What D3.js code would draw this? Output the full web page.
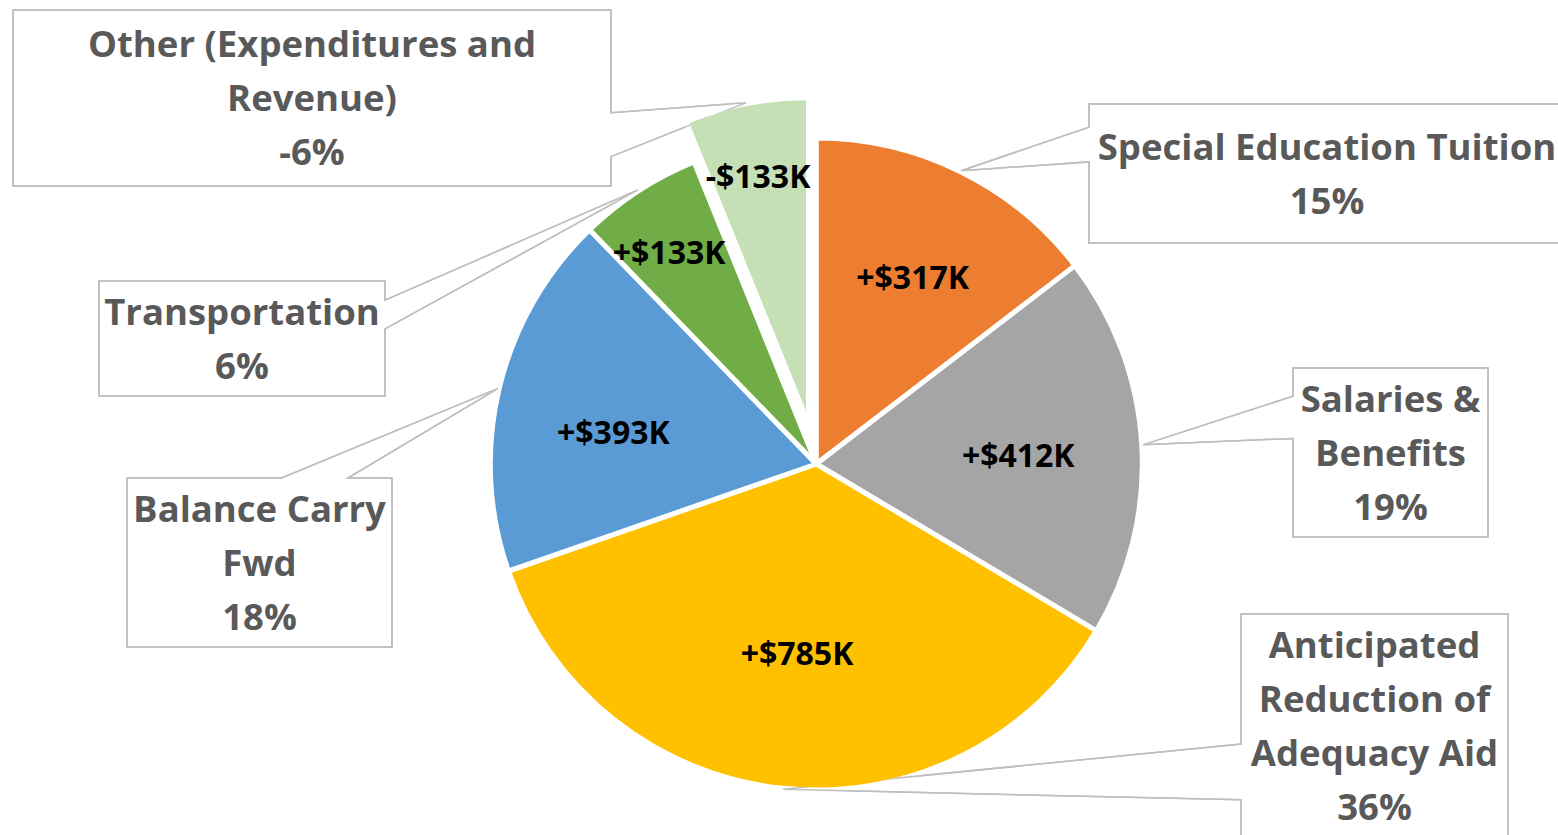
<!DOCTYPE html>
<html><head><meta charset="utf-8">
<script src="https://cdn.jsdelivr.net/npm/d3@7/dist/d3.min.js"></script>
<style>html,body{margin:0;padding:0;background:#fff;overflow:hidden}</style>
</head><body><svg id="chart" width="1558" height="835"></svg>
<script>
// ---- data ----
const categories = ["Special Education Tuition", "Salaries & Benefits", "Anticipated Reduction of Adequacy Aid", "Balance Carry Fwd", "Transportation", "Other (Expenditures and Revenue)"];
const categoryLines = [["Special Education Tuition"], ["Salaries &", "Benefits"], ["Anticipated", "Reduction of", "Adequacy Aid"], ["Balance Carry", "Fwd"], ["Transportation"], ["Other (Expenditures and", "Revenue)"]];
const values = [317, 412, 785, 393, 133, -133]; // $K change
const colors = ["#ED7D31", "#A5A5A5", "#FFC000", "#5B9BD5", "#70AD47", "#C5E0B4"];

// ---- layout ----
const W = 1558, H = 835;
const cx = 816.3, cy = 464, R = 326;
const explodeDist = [0, 0, 0, 0, 0, 41];
const boxes = [
  {x: 1089, y: 104, w: 476, h: 139},
  {x: 1293, y: 368, w: 195, h: 169},
  {x: 1241, y: 614, w: 267, h: 223},
  {x: 127, y: 478, w: 265, h: 169},
  {x: 99, y: 281, w: 286, h: 115},
  {x: 13, y: 10, w: 598, h: 176}
];
// value-label placement: fraction of radius and small angular nudge (degrees)
const labelPlace = [
  {r: 0.645, da: 1}, {r: 0.62, da: 1}, {r: 0.585, da: 0},
  {r: 0.63, da: -4.5}, {r: 0.79, da: -1.8}, {r: 0.775, da: -0.5}
];
const FONT = "'Open Sans', Lato, 'DejaVu Sans', sans-serif";
const calloutSize = 36.5, calloutLH = 54;
const valueSize = 32;
const sliceGap = 5;

const total = d3.sum(values, v => Math.abs(v));
const pctLabel = v => Math.round(v / total * 100) + "%";
const valLabel = v => (v < 0 ? "-" : "+") + "$" + Math.abs(v) + "K";

const svg = d3.select("#chart");
const pie = d3.pie().sort(null).value(v => Math.abs(v)).startAngle(0).endAngle(2 * Math.PI);
const arcs = pie(values);
const arc = d3.arc().innerRadius(0).outerRadius(R);
const edgeArc = d3.arc().innerRadius(R + 1).outerRadius(R + 1);

function offset(d, i) {
  const a = (d.startAngle + d.endAngle) / 2;
  return [Math.sin(a) * explodeDist[i], -Math.cos(a) * explodeDist[i]];
}

function calloutPath(b, tx, ty) {
  const x0 = b.x, y0 = b.y, x1 = b.x + b.w, y1 = b.y + b.h;
  const mx = b.x + b.w / 2, my = b.y + b.h / 2;
  const dx = (tx - mx) / b.w, dy = (ty - my) / b.h;
  let side;
  if (Math.abs(dx) > Math.abs(dy)) side = dx < 0 ? "left" : "right";
  else side = dy < 0 ? "top" : "bottom";
  let f1, f2;
  if (side === "left" || side === "right") { [f1, f2] = ty < my ? [2/12, 5/12] : [7/12, 10/12]; }
  else { [f1, f2] = tx < mx ? [2/12, 5/12] : [7/12, 10/12]; }
  const p = d3.path();
  p.moveTo(x0, y0);
  if (side === "top") { p.lineTo(x0 + b.w * f1, y0); p.lineTo(tx, ty); p.lineTo(x0 + b.w * f2, y0); }
  p.lineTo(x1, y0);
  if (side === "right") { p.lineTo(x1, y0 + b.h * f1); p.lineTo(tx, ty); p.lineTo(x1, y0 + b.h * f2); }
  p.lineTo(x1, y1);
  if (side === "bottom") { p.lineTo(x0 + b.w * f2, y1); p.lineTo(tx, ty); p.lineTo(x0 + b.w * f1, y1); }
  p.lineTo(x0, y1);
  if (side === "left") { p.lineTo(x0, y0 + b.h * f2); p.lineTo(tx, ty); p.lineTo(x0, y0 + b.h * f1); }
  p.closePath();
  return p.toString();
}

const calloutD = arcs.map((d, i) => {
  const [ox, oy] = offset(d, i);
  const [ex, ey] = edgeArc.centroid(d);
  return calloutPath(boxes[i], cx + ox + ex, cy + oy + ey);
});

// mask: visible everywhere except over slice fills
const mask = svg.append("defs").append("mask").attr("id", "offFill")
  .attr("maskUnits", "userSpaceOnUse").attr("x", 0).attr("y", 0).attr("width", W).attr("height", H);
mask.append("rect").attr("width", W).attr("height", H).attr("fill", "#fff");
mask.append("g").attr("transform", `translate(${cx},${cy})`)
  .selectAll("path").data(arcs).join("path")
  .attr("transform", (d, i) => `translate(${offset(d, i)})`)
  .attr("d", arc).attr("fill", "#000").attr("stroke", "#fff").attr("stroke-width", sliceGap);

// callouts (beneath pie)
const cg = svg.append("g");
arcs.forEach((d, i) => {
  const b = boxes[i];
  cg.append("path").attr("d", calloutD[i])
    .attr("fill", "#fff").attr("stroke", "#BFBFBF").attr("stroke-width", 1.5);
  const lines = categoryLines[i].concat([pctLabel(values[i])]);
  const n = lines.length;
  const mx = b.x + b.w / 2, my = b.y + b.h / 2;
  lines.forEach((t, k) => {
    cg.append("text").attr("x", mx)
      .attr("y", my + (k - (n - 1) / 2) * calloutLH + calloutSize * 0.357)
      .attr("text-anchor", "middle").attr("font-family", FONT).attr("font-weight", "bold")
      .attr("font-size", calloutSize).attr("fill", "#595959").text(t);
  });
});

// pie slices
const pg = svg.append("g").attr("transform", `translate(${cx},${cy})`);
pg.selectAll("path.slice").data(arcs).join("path").attr("class", "slice")
  .attr("transform", (d, i) => `translate(${offset(d, i)})`)
  .attr("d", arc).attr("fill", (d, i) => colors[i])
  .attr("stroke", "#fff").attr("stroke-width", sliceGap).attr("stroke-linejoin", "round");

// callout outlines again, shown only outside the slice fills (over the white borders)
svg.append("g").attr("mask", "url(#offFill)").selectAll("path").data(calloutD).join("path")
  .attr("d", d => d).attr("fill", "none").attr("stroke", "#BFBFBF").attr("stroke-width", 1.5);

// value labels
pg.selectAll("text.val").data(arcs).join("text").attr("class", "val")
  .attr("transform", (d, i) => {
    const lp = labelPlace[i];
    const a = (d.startAngle + d.endAngle) / 2 + lp.da * Math.PI / 180;
    const lr = R * lp.r;
    const [ox, oy] = offset(d, i);
    return `translate(${Math.sin(a) * lr + ox},${-Math.cos(a) * lr + oy + valueSize * 0.357})`;
  })
  .attr("text-anchor", "middle").attr("font-family", FONT).attr("font-weight", "bold")
  .attr("font-size", valueSize).attr("fill", "#000").text((d, i) => valLabel(values[i]));
</script></body></html>
